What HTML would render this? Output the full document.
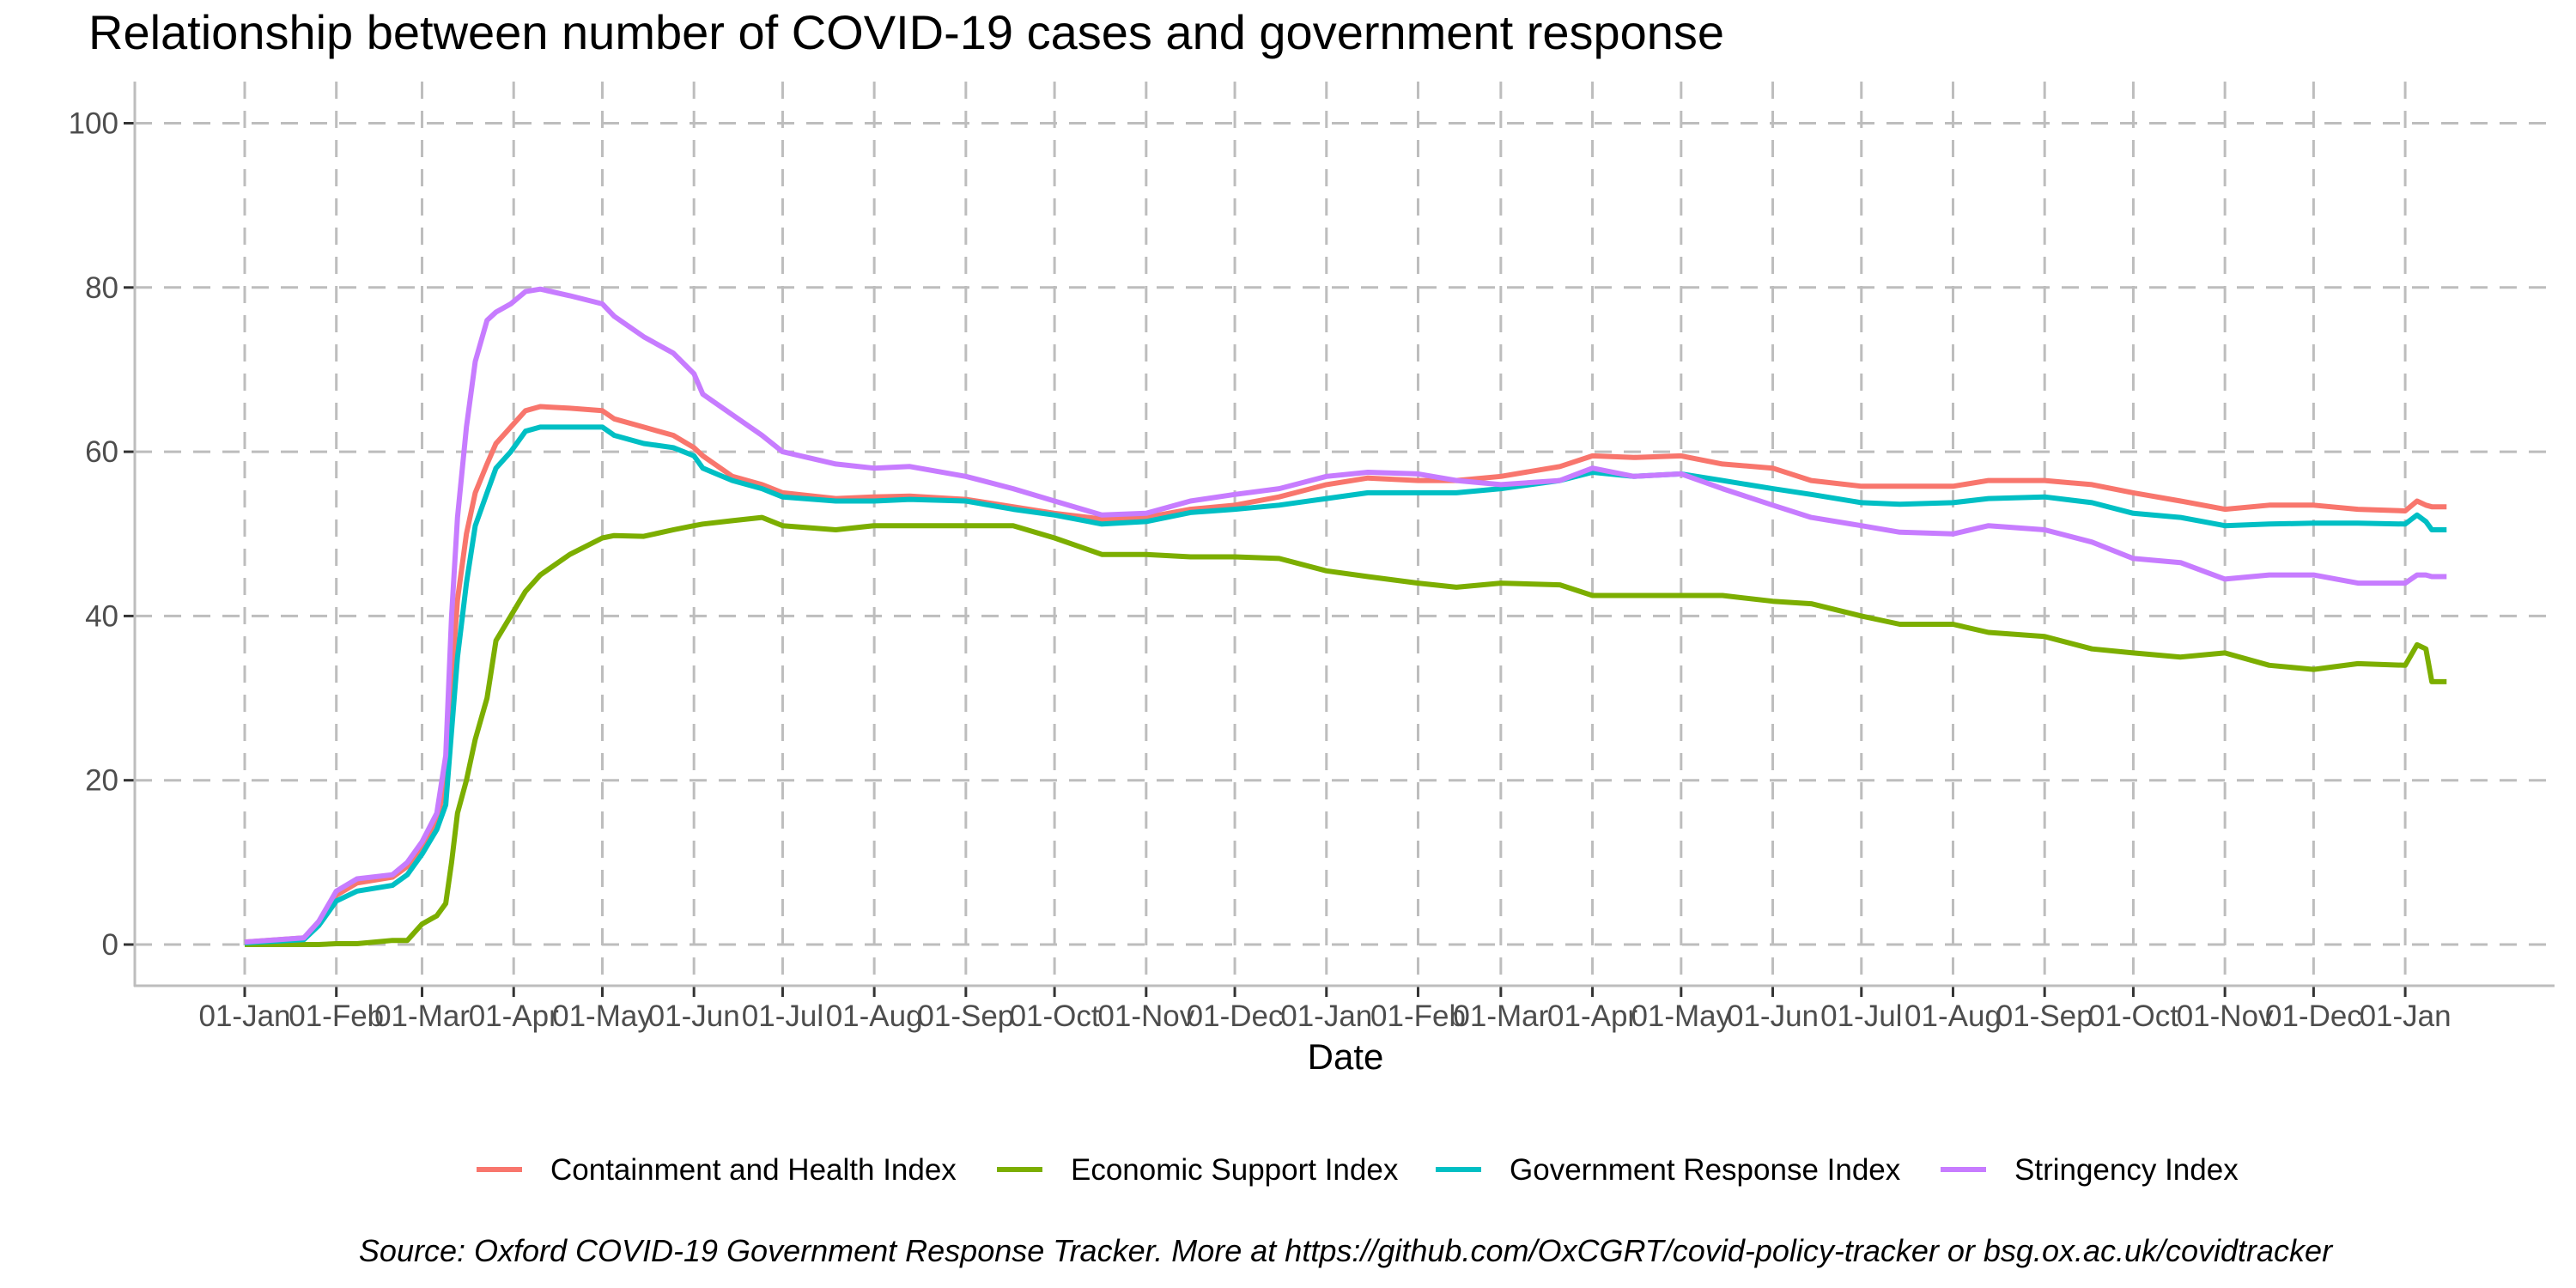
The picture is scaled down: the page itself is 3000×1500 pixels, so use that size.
<!DOCTYPE html>
<html><head><meta charset="utf-8"><style>
html,body{margin:0;padding:0;background:#fff;}
svg{display:block;font-family:"Liberation Sans",sans-serif;}
</style></head><body>
<svg id="chart" width="3000" height="1500" viewBox="0 0 3000 1500" xmlns="http://www.w3.org/2000/svg">
<rect width="3000" height="1500" fill="#fff"/>
<text x="103" y="57" font-size="56" fill="#000">Relationship between number of COVID-19 cases and government response</text>
<g id="grid"></g>
<g id="axes"></g>
<g id="series"></g>
<text x="1567" y="1245" font-size="42" text-anchor="middle" fill="#000">Date</text>
<g id="legend"></g>
<text x="1567" y="1469" font-size="36" font-style="italic" text-anchor="middle" fill="#000">Source: Oxford COVID-19 Government Response Tracker. More at https://github.com/OxCGRT/covid-policy-tracker or bsg.ox.ac.uk/covidtracker</text>
</svg>
<script>
const days = [0,20,25,31,38,50,55,60,65,68,70,72,75,78,82,85,90,95,100,110,121,125,135,145,152,155,165,175,182,200,213,225,244,260,274,290,305,320,335,350,366,380,397,410,425,445,456,470,486,500,517,530,547,560,578,590,609,625,639,655,670,685,700,715,731,735,738,740,745];
const containment = [0.3,0.8,2.5,6,7.5,8.2,9.5,12,15,20,32,42,50,55,58.5,61,63,65,65.5,65.3,65,64,63,62,60.5,59.5,57,56,55,54.3,54.5,54.6,54.2,53.3,52.5,51.8,52,53,53.5,54.5,56,56.8,56.5,56.5,57,58.2,59.5,59.3,59.5,58.5,58,56.5,55.8,55.8,55.8,56.5,56.5,56,55,54,53,53.5,53.5,53,52.8,54,53.5,53.3,53.3];
const economic = [0,0,0,0.1,0.1,0.5,0.5,2.5,3.5,5,10,16,20,25,30,37,40,43,45,47.5,49.5,49.8,49.7,50.5,51,51.2,51.6,52,51,50.5,51,51,51,51,49.5,47.5,47.5,47.2,47.2,47,45.5,44.8,44,43.5,44,43.8,42.5,42.5,42.5,42.5,41.8,41.5,40,39,39,38,37.5,36,35.5,35,35.5,34,33.5,34.2,34,36.5,36,32,32];
const government = [0.2,0.6,2.3,5.3,6.5,7.2,8.5,11,14,17,26,35,44,51,55,58,60,62.5,63,63,63,62,61,60.5,59.5,58,56.5,55.5,54.5,54,54,54.2,54,53,52.3,51.2,51.5,52.6,53,53.5,54.3,55,55,55,55.5,56.5,57.5,57,57.3,56.5,55.5,54.8,53.8,53.6,53.8,54.3,54.5,53.8,52.5,52,51,51.2,51.3,51.3,51.2,52.3,51.5,50.5,50.5];
const stringency = [0.3,0.8,2.8,6.5,8,8.5,10,12.5,16,23,40,52,63,71,76,77,78,79.5,79.8,79,78,76.5,74,72,69.5,67,64.5,62,60,58.5,58,58.2,57,55.5,54,52.3,52.5,54,54.8,55.5,57,57.5,57.3,56.5,56,56.5,58,57,57.3,55.5,53.5,52,51,50.2,50,51,50.5,49,47,46.5,44.5,45,45,44,44,45,45,44.8,44.8];
const seriesNames = ["Containment and Health Index","Economic Support Index","Government Response Index","Stringency Index"];
const yTicks = [0,20,40,60,80,100];
const monthLabels = ["Jan","Feb","Mar","Apr","May","Jun","Jul","Aug","Sep","Oct","Nov","Dec"];

const NS="http://www.w3.org/2000/svg";
const X0=285, PXD=3.442, Y0=1100, PXU=9.565;
const xS=d=>X0+d*PXD, yS=v=>Y0-v*PXU;
function mk(tag,attrs,parent){const e=document.createElementNS(NS,tag);for(const k in attrs)e.setAttribute(k,attrs[k]);parent.appendChild(e);return e;}
const grid=document.getElementById('grid'), axes=document.getElementById('axes'), ser=document.getElementById('series'), leg=document.getElementById('legend');
const base=Date.UTC(2020,0,1);
const monthDays=[];
for(let y=2020;y<=2022;y++)for(let m=0;m<12;m++){const d=(Date.UTC(y,m,1)-base)/86400000;if(d<=731)monthDays.push([d,m]);}
yTicks.forEach(v=>{
  const l=mk('line',{x1:157,x2:2975,y1:yS(v),y2:yS(v),stroke:'#bdbdbd','stroke-width':3,'stroke-dasharray':'20,14'},grid);
  
  
  const t=mk('line',{x1:144,x2:157,y1:yS(v),y2:yS(v),stroke:'#333','stroke-width':3},axes);
  
  
  const tx=mk('text',{x:138,y:yS(v)+12,'font-size':35,'text-anchor':'end',fill:'#4d4d4d'},axes);
  tx.textContent=v;
  
  
});
monthDays.forEach(([d,m])=>{
  const x=xS(d);
  const l=mk('line',{x1:x,x2:x,y1:95,y2:1148,stroke:'#bdbdbd','stroke-width':3,'stroke-dasharray':'20,14'},grid);
  
  
  const t=mk('line',{x1:x,x2:x,y1:1148,y2:1161,stroke:'#333','stroke-width':3},axes);
  
  
  const tx=mk('text',{x:x,y:1195,'font-size':35,'text-anchor':'middle',fill:'#4d4d4d'},axes);
  tx.textContent='01-'+monthLabels[m];
  
  
});
const ya=mk('line',{x1:157,x2:157,y1:95,y2:1149,stroke:'#bdbdbd','stroke-width':3},axes);


const xa=mk('line',{x1:156,x2:2975,y1:1148,y2:1148,stroke:'#bdbdbd','stroke-width':3},axes);


const colors=['#F8766D','#7CAE00','#00BFC4','#C77CFF'];
const all=[containment,economic,government,stringency];
const keys=['containment-line','economic-line','government-line','stringency-line'];
all.forEach((vals,i)=>{
  const p=mk('polyline',{points:vals.map((v,j)=>xS(days[j]).toFixed(1)+','+yS(v).toFixed(1)).join(' '),fill:'none',stroke:colors[i],'stroke-width':6,'stroke-linejoin':'round'},ser);
  
  
});
const lx=[555,1161,1672,2260];
seriesNames.forEach((n,i)=>{
  const g=mk('g',{},leg);
  
  
  mk('line',{x1:lx[i],x2:lx[i]+53,y1:1362,y2:1362,stroke:colors[i],'stroke-width':6},g);
  const t=mk('text',{x:lx[i]+86,y:1374,'font-size':35,fill:'#000'},g);
  t.textContent=n;
});
</script>
</body></html>
